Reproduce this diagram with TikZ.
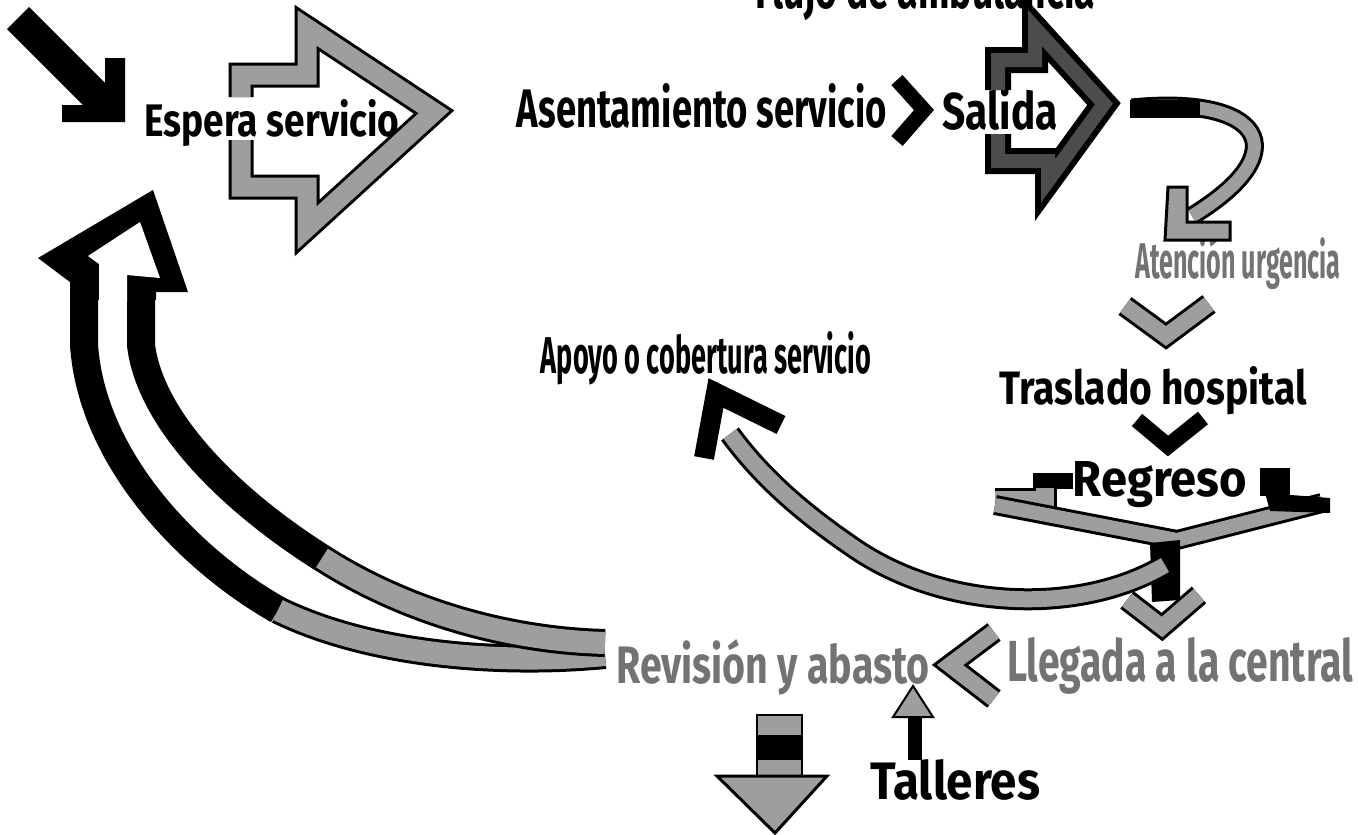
\documentclass[tikz,border=0pt]{standalone}
\usepackage{fontspec}
\setmainfont{Fira Sans}
\usepackage{graphicx}
\definecolor{speck}{gray}{0.62}
\definecolor{specktext}{gray}{0.45}
\newcommand{\fitt}[3]{\resizebox{#1pt}{#2pt}{#3}}
\tikzset{
  lbl/.style={inner sep=0pt, anchor=base, font=\bfseries},
  graylbl/.style={lbl, text=specktext},
  band/.style={draw=black, line width=3pt, double=speck, double distance=#1, line join=miter, miter limit=6},
  band/.default=18pt,
  darkband/.style={draw=black, line width=6pt, double=black!70, double distance=#1, line join=miter, miter limit=6},
  darkband/.default=14pt,
  solidarm/.style={draw=black, line width=#1, line join=miter, miter limit=6},
  headfill/.style={draw=black, line width=3pt, fill=speck, line join=miter},
}
\begin{document}
\begin{tikzpicture}[x=1pt,y=-1pt]
\useasboundingbox (0,0) rectangle (1358,835);
\clip (0,0) rectangle (1358,835);
\fill[white] (0,0) rectangle (1358,835);

% ---------- texts ----------
\node[lbl] (titulo) at (925,9) {\fitt{340}{45}{Flujo de ambulancia}};
\node[lbl] (espera) at (272,136) {\fitt{255}{37}{Espera servicio}};
\node[lbl] (asent) at (702,127) {\fitt{370}{44}{Asentamiento servicio}};
\node[lbl] (salida) at (1000,129) {\fitt{115}{42}{Salida}};
\node[graylbl] (atencion) at (1238,278) {\fitt{205}{42}{Atención urgencia}};
\node[lbl] (traslado) at (1153,404) {\fitt{307}{38}{Traslado hospital}};
\node[lbl] (regreso) at (1160,496) {\fitt{174}{35}{Regreso}};
\node[lbl] (apoyo) at (706,373) {\fitt{330}{42}{Apoyo o cobertura servicio}};
\node[graylbl] (revision) at (773,683) {\fitt{313}{44}{Revisión y abasto}};
\node[graylbl] (llegada) at (1180,681) {\fitt{346}{44}{Llegada a la central}};
\node[lbl] (talleres) at (955,799) {\fitt{170}{40}{Talleres}};

% ---------- entry arrow ----------
\fill[black] (29,7) -- (105,83) -- (105,58) -- (125,58) -- (125,122) -- (62,122)
  -- (62,105) -- (83,105) -- (7,29) -- cycle;

% ---------- Espera servicio outline arrow ----------
\draw[band=19pt] (241,97) -- (241,75) -- (307,75) -- (307,28) -- (434,112)
  -- (307,228) -- (307,187) -- (241,187) -- (241,140);

% ---------- chevron after Asentamiento ----------
\draw[solidarm=15pt] (897,80) -- (924,110) -- (897,141);

% ---------- Salida outline arrow ----------
\draw[darkband] (998,90) -- (998,60) -- (1035,60) -- (1035,28) -- (1104,104)
  -- (1048,181) -- (1048,161) -- (998,161) -- (998,134);

% ---------- Salida -> Atencion curved arrow ----------
\draw[band=13pt] (1132,108) .. controls (1260,95) and (1300,150) .. (1192,216);
\fill[black] (1130,100) rectangle (1200,118);
\draw[headfill] (1168,187) -- (1187,187) -- (1187,222) -- (1230,222) -- (1230,240)
  -- (1165,240) -- cycle;

% ---------- chevrons ----------
\draw[band=16pt] (1125,306) -- (1166,336) -- (1209,304);
\draw[solidarm=16pt] (1137,420) -- (1168,446) -- (1203,418);

% ---------- Regreso frame ----------
\fill[black] (1033,473) rectangle (1073,489);
\draw[band=18pt] (1045,488) -- (1045,500) -- (995,500);
\draw[band=14pt, line join=round] (995,505) -- (1177,540) -- (1322,503);
\fill[black] (1260,468) rectangle (1290,496);
\fill[black] (1265,493) -- (1330,498) -- (1330,513) -- (1270,511) -- cycle;

% ---------- junction, down to Llegada ----------
\fill[black] (1150,543) -- (1180,540) -- (1180,600) -- (1152,602) -- cycle;
\draw[band=16pt] (1127,600) -- (1162,627) -- (1199,595);

% ---------- curved arrow back to Apoyo ----------
\draw[band=16pt] (1165,565) .. controls (1080,615) and (950,610) .. (860,552)
  .. controls (800,512) and (760,475) .. (730,434);
\draw[solidarm=20pt] (781,425) -- (716,393) -- (704,458);

% ---------- big return arrow to Espera servicio ----------
\draw[line width=28pt] (84,296) -- (84,345) .. controls (92,460) and (190,560) .. (278,610);
\draw[band=22pt] (278,610) .. controls (370,655) and (500,665) .. (605,655);
\draw[line width=28pt] (141,296) -- (141,345) .. controls (150,420) and (230,500) .. (322,558);
\draw[band=22pt] (322,558) .. controls (400,608) and (500,640) .. (605,643);
\fill[black] (153,190) -- (38,258) -- (70,282) -- (70,300) -- (156,300) -- (156,292)
  -- (188,292) -- cycle;
\fill[white] (140,222) -- (88,256) -- (99,264) -- (99,302) -- (127,302) -- (127,275)
  -- (160,278) -- cycle;

% ---------- down arrow under Revision ----------
\draw[draw=black, line width=2pt, fill=speck] (757,715) rectangle (802,777);
\fill[black] (757,735) rectangle (802,760);
\draw[headfill] (717,776) -- (827,776) -- (775,833) -- cycle;

% ---------- up arrow from Talleres ----------
\fill[black] (908,715) rectangle (922,760);
\draw[headfill, line width=2pt] (893,717) -- (933,717) -- (913,686) -- cycle;

% ---------- chevron between Revision and Llegada ----------
\draw[band=16pt] (994,632) -- (950,665) -- (994,699);
\end{tikzpicture}
\end{document}
